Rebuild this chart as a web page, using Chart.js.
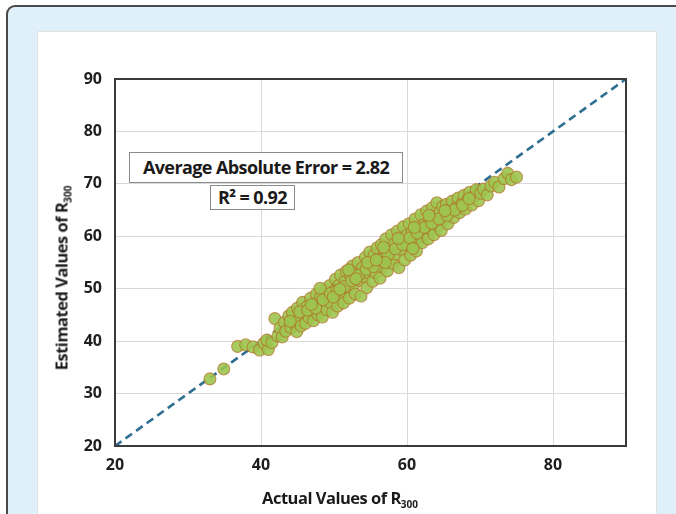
<!DOCTYPE html>
<html>
<head>
<meta charset="utf-8">
<script src="https://cdn.jsdelivr.net/npm/chart.js@4/dist/chart.umd.min.js"></script>
<style>
  body { margin: 0; background: #fff; width: 676px; height: 514px; overflow: hidden; position: relative; font-family: "Open Sans", sans-serif; }
  .outer { position: absolute; left: 6px; top: 5px; width: 720px; height: 600px; border: 2px solid #4a4a4a; border-radius: 9px; background: #dff0fb; }
  .inner { position: absolute; left: 37px; top: 31px; width: 618px; height: 520px; border: 1px solid #e2e2e2; background: #fff; }
  #wrap { position: absolute; left: 38px; top: 32px; width: 618px; height: 482px; }
  .lbl { position: absolute; font-weight: 700; color: #1a1a1a; white-space: nowrap; letter-spacing: -0.5px; font-size: 16.5px; }
  .lbl sub { font-size: 10px; vertical-align: -4px; letter-spacing: 0; }
  .box { position: absolute; border: 1px solid #8a8a8a; background: #fff; font-weight: 700; font-size: 18px; color: #1a1a1a; white-space: nowrap; letter-spacing: -0.6px; text-align: center; box-sizing: border-box; }
</style>
</head>
<body>
<div class="outer"></div>
<div class="inner"></div>
<div id="wrap"><canvas id="c" width="618" height="482"></canvas></div>

<div class="box" style="left:129px; top:152px; width:274px; height:31px; line-height:29px;">Average Absolute Error = 2.82</div>
<div class="box" style="left:210px; top:185px; width:85px; height:25px; line-height:23px;">R² = 0.92</div>

<div class="lbl" style="left:340px; top:498px; transform: translate(-50%, -50%);">Actual Values of R<sub>300</sub></div>
<div class="lbl" style="left:62px; top:278px; transform: translate(-50%, -50%) rotate(-90deg);">Estimated Values of R<sub>300</sub></div>

<script>
const actual = [
  33.0, 34.9, 36.8, 37.9, 38.9, 39.8, 40.4, 41.0, 40.8, 41.5,
  41.9, 42.3, 42.6, 42.9, 43.2, 43.4, 43.8, 44.1, 44.3, 44.6, 44.9, 45.0, 45.2, 45.5,
  45.7, 45.9, 46.1, 46.3, 46.6, 46.8, 47.0, 47.2, 47.4, 47.6, 47.8, 48.0, 48.2, 48.4, 48.6, 48.8, 49.0, 49.2, 49.4, 49.6, 49.8, 50.0, 50.2, 50.3, 50.5, 50.7, 50.9,
  51.1, 51.3, 51.5, 51.7, 51.9, 52.1, 52.3, 52.5, 52.7, 52.9, 53.1, 53.3, 53.5, 53.7, 53.9, 54.1, 54.3, 54.5, 54.7, 54.9, 55.1, 55.3,
  55.5, 55.7, 55.9, 56.1, 56.3, 56.5, 56.7, 56.9, 57.1, 57.3, 57.5, 57.7, 57.9, 58.1, 58.3, 58.5, 58.7, 58.9, 59.1, 59.3, 59.5, 59.7, 59.9,
  60.1, 60.3, 60.5, 60.7, 60.9, 61.1, 61.3, 61.5, 61.7, 61.9, 62.1, 62.3, 62.5, 62.7, 62.9, 63.1, 63.3, 63.5, 63.7, 63.9, 64.1, 64.3, 64.5, 64.7, 64.9,
  65.1, 65.4, 65.6, 65.9, 66.2, 66.4, 66.7, 67.0, 67.2, 67.5, 67.8, 68.0, 68.3, 68.6, 68.9, 69.2, 69.5, 69.8, 70.1,
  70.5, 71.0, 71.5, 72.0, 72.6, 73.3, 73.8, 74.3, 75.0,
  44.0, 45.3, 46.4, 47.5, 48.5, 49.5, 50.4, 51.4, 52.4, 53.4, 54.4, 55.4, 56.4, 57.4, 58.4, 59.4, 60.4, 61.4, 62.4, 63.4,
  64.4, 65.5, 66.5, 67.6, 68.5, 46.9, 49.9, 52.0, 54.6, 56.8, 58.8, 61.0, 63.0, 65.2, 48.1, 53.0, 57.0, 60.8, 55.8, 50.8
];
const estimated = [
  32.8, 34.7, 39.0, 39.3, 38.9, 38.3, 39.6, 38.4, 40.2, 39.7,
  44.3, 41.0, 42.5, 40.8, 43.6, 41.9, 44.8, 42.6, 45.5, 43.4, 41.8, 46.3, 44.2, 42.9,
  47.4, 45.1, 43.4, 46.6, 44.5, 48.2, 45.8, 43.9, 47.2, 49.0, 45.0, 46.6, 48.4, 44.6, 47.6, 49.7, 46.0, 48.8, 50.6, 47.2, 45.5, 49.6, 51.8, 48.3, 46.7, 50.7, 52.6,
  49.0, 47.3, 51.4, 53.3, 50.0, 48.2, 52.4, 54.3, 50.8, 49.0, 53.1, 55.0, 51.6, 48.6, 54.0, 52.3, 56.0, 50.2, 53.1, 57.0, 54.7, 51.4,
  56.4, 53.0, 57.8, 55.2, 52.0, 58.4, 54.2, 56.7, 59.5, 53.4, 57.6, 55.6, 60.3, 54.8, 58.6, 56.6, 61.0, 54.0, 59.3, 57.4, 61.8, 55.5, 60.1,
  58.2, 62.4, 56.4, 60.8, 58.9, 63.3, 57.2, 61.5, 59.6, 64.1, 58.8, 62.2, 60.5, 64.8, 59.5, 63.0, 61.3, 65.5, 60.3, 63.8, 66.4, 62.0, 64.6, 61.1, 65.7,
  63.2, 66.1, 62.4, 64.6, 66.7, 63.6, 65.4, 67.3, 64.5, 66.2, 67.8, 65.2, 66.9, 68.4, 66.0, 67.6, 68.9, 66.8, 68.2,
  69.0, 67.9, 69.6, 70.3, 69.4, 71.0, 72.0, 70.8, 71.3,
  43.8, 45.6, 45.9, 46.3, 47.9, 49.1, 49.6, 50.4, 51.5, 52.6, 53.7, 54.2, 55.6, 56.5, 57.6, 58.4, 59.7, 60.6, 61.7, 62.5,
  63.3, 64.0, 65.0, 65.9, 67.2, 47.0, 48.4, 53.6, 55.0, 57.9, 59.6, 61.7, 64.0, 64.9, 50.1, 51.9, 55.0, 57.7, 55.5, 49.9
];
const lineX = [20, 90];
const lineY = [20, 90];
const yTicks = [20, 30, 40, 50, 60, 70, 80, 90];
const xTicks = [20, 40, 60, 80];

const points = actual.map((v, i) => ({ x: v, y: estimated[i] }));
const diag = lineX.map((v, i) => ({ x: v, y: lineY[i] }));

const frame = {
    id: 'frame',
    afterDatasetsDraw(chart) {
        const a = chart.chartArea;
        const ctx = chart.ctx;
        ctx.save();
        ctx.strokeStyle = '#3a3a3a';
        ctx.lineWidth = 2;
        ctx.strokeRect(a.left, a.top, a.right - a.left, a.bottom - a.top);
        ctx.restore();
    }
};

const tickFont = { family: 'Open Sans', size: 16, weight: 'bold' };

new Chart(document.getElementById('c'), {
    type: 'scatter',
    data: {
        datasets: [
            {
                label: 'R300',
                data: points,
                order: 1,
                pointRadius: 6,
                pointBackgroundColor: 'rgba(157,197,80,0.9)',
                pointBorderColor: 'rgba(180,112,40,0.7)',
                pointBorderWidth: 1.1
            },
            {
                type: 'line',
                label: '1:1',
                data: diag,
                order: 2,
                borderColor: '#2e6f92',
                borderWidth: 2.6,
                borderDash: [8, 5],
                pointRadius: 0,
                fill: false
            }
        ]
    },
    options: {
        responsive: false,
        devicePixelRatio: 1,
        animation: false,
        layout: { padding: { top: 47, right: 30, left: 0, bottom: 0 } },
        plugins: { legend: { display: false }, tooltip: { enabled: false } },
        scales: {
            x: {
                type: 'linear',
                min: 20,
                max: 90,
                afterBuildTicks: s => { s.ticks = xTicks.map(v => ({ value: v })); },
                afterFit: s => { s.height = 68; },
                grid: { color: '#d9d9d9', drawTicks: false },
                border: { display: false },
                ticks: { font: tickFont, color: '#1e1e1e', padding: 10 }
            },
            y: {
                type: 'linear',
                min: 20,
                max: 90,
                afterBuildTicks: s => { s.ticks = yTicks.map(v => ({ value: v })); },
                afterFit: s => { s.width = 77; },
                grid: { color: '#d9d9d9', drawTicks: false },
                border: { display: false },
                ticks: { font: tickFont, color: '#1e1e1e', padding: 13 }
            }
        }
    },
    plugins: [frame]
});
</script>
</body>
</html>
